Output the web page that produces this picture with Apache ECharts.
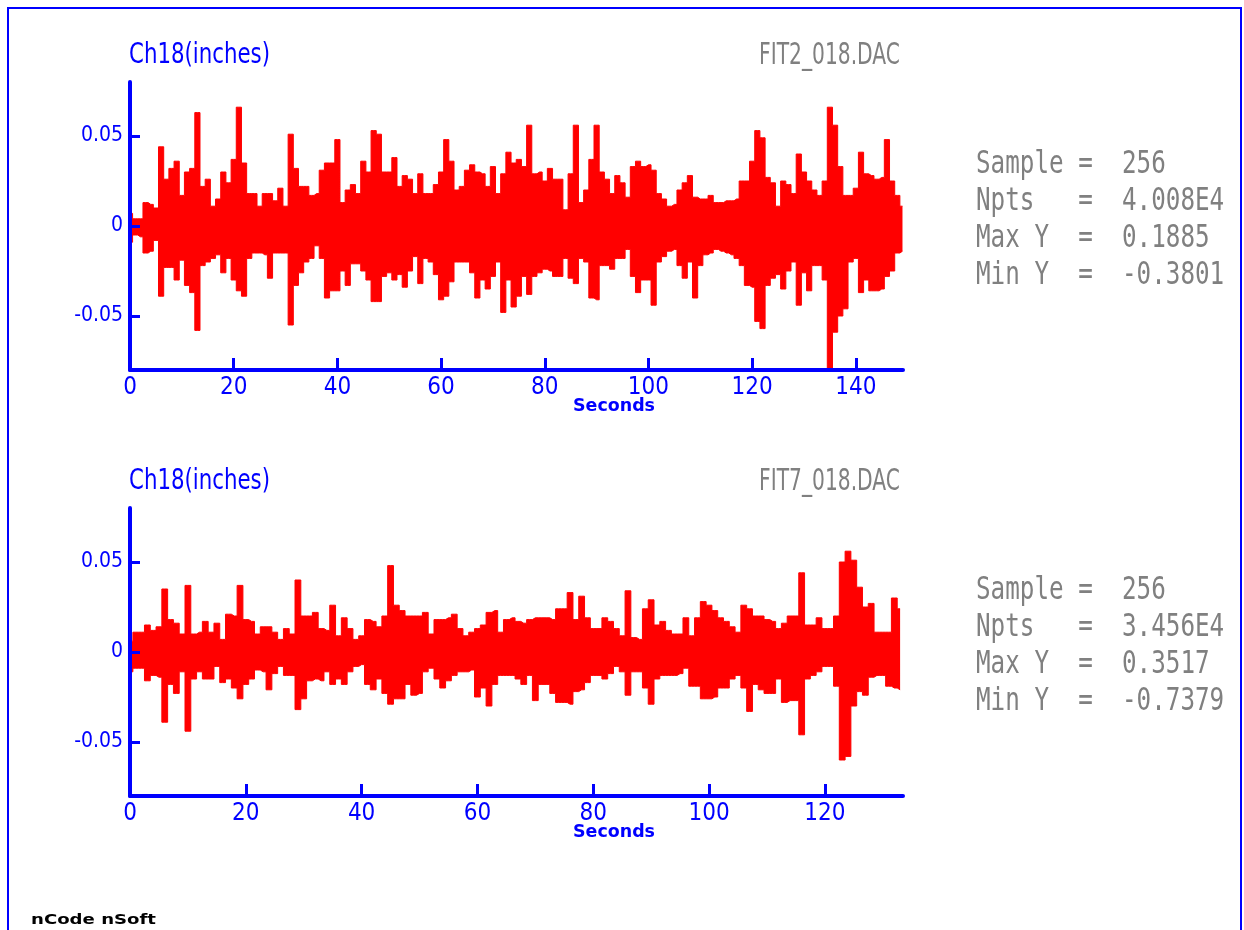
<!DOCTYPE html>
<html>
<head>
<meta charset="utf-8">
<script src="https://cdn.jsdelivr.net/npm/echarts@6/dist/echarts.min.js"></script>
<style>
  html, body { margin: 0; padding: 0; background: #ffffff; }
  #chart { width: 1244px; height: 930px; }
</style>
</head>
<body>
<div id="chart"></div>
<script>
// Ch18 displacement (inches), two road-load files.
// Each record is stored as its max / min envelope over 1-second windows.
const windowSeconds = 1;

const fit2Max = [
  0.007, 0.004, 0.004, 0.013, 0.012, 0.010, 0.044, 0.026, 0.032, 0.036,
  0.017, 0.030, 0.032, 0.063, 0.022, 0.026, 0.011, 0.015, 0.030, 0.024,
  0.037, 0.066, 0.035, 0.018, 0.018, 0.011, 0.018, 0.018, 0.014, 0.021,
  0.011, 0.051, 0.032, 0.022, 0.022, 0.017, 0.018, 0.031, 0.035, 0.035,
  0.048, 0.013, 0.020, 0.023, 0.018, 0.036, 0.030, 0.053, 0.051, 0.030,
  0.030, 0.038, 0.022, 0.028, 0.026, 0.018, 0.029, 0.018, 0.018, 0.023,
  0.030, 0.048, 0.036, 0.020, 0.022, 0.031, 0.034, 0.030, 0.029, 0.022,
  0.033, 0.018, 0.029, 0.041, 0.035, 0.037, 0.033, 0.056, 0.029, 0.030,
  0.025, 0.032, 0.026, 0.026, 0.009, 0.029, 0.056, 0.013, 0.020, 0.037,
  0.056, 0.030, 0.026, 0.018, 0.028, 0.024, 0.016, 0.033, 0.036, 0.033,
  0.034, 0.031, 0.018, 0.015, 0.011, 0.012, 0.020, 0.024, 0.028, 0.016,
  0.015, 0.015, 0.017, 0.013, 0.013, 0.014, 0.014, 0.015, 0.025, 0.025,
  0.036, 0.053, 0.049, 0.027, 0.024, 0.011, 0.025, 0.023, 0.018, 0.040,
  0.030, 0.025, 0.020, 0.017, 0.025, 0.066, 0.056, 0.033, 0.017, 0.017,
  0.021, 0.041, 0.029, 0.028, 0.026, 0.027, 0.048, 0.025, 0.017, 0.011
];
const fit2Min = [
  -0.009, -0.005, -0.006, -0.015, -0.014, -0.008, -0.039, -0.023, -0.023, -0.030,
  -0.019, -0.033, -0.037, -0.058, -0.022, -0.020, -0.018, -0.016, -0.026, -0.018,
  -0.030, -0.036, -0.039, -0.018, -0.015, -0.015, -0.016, -0.029, -0.015, -0.015,
  -0.015, -0.055, -0.033, -0.026, -0.020, -0.018, -0.011, -0.018, -0.040, -0.036,
  -0.036, -0.025, -0.033, -0.021, -0.021, -0.025, -0.030, -0.042, -0.042, -0.028,
  -0.026, -0.030, -0.027, -0.034, -0.025, -0.017, -0.032, -0.018, -0.020, -0.027,
  -0.041, -0.039, -0.031, -0.020, -0.020, -0.020, -0.026, -0.040, -0.030, -0.035,
  -0.028, -0.020, -0.048, -0.030, -0.045, -0.039, -0.028, -0.038, -0.028, -0.026,
  -0.024, -0.025, -0.028, -0.028, -0.018, -0.029, -0.032, -0.018, -0.020, -0.040,
  -0.041, -0.022, -0.022, -0.024, -0.018, -0.018, -0.013, -0.028, -0.037, -0.030,
  -0.030, -0.044, -0.020, -0.017, -0.014, -0.013, -0.022, -0.029, -0.020, -0.040,
  -0.022, -0.016, -0.015, -0.013, -0.014, -0.015, -0.016, -0.018, -0.022, -0.033,
  -0.034, -0.053, -0.057, -0.033, -0.029, -0.027, -0.035, -0.025, -0.020, -0.044,
  -0.026, -0.036, -0.022, -0.022, -0.030, -0.080, -0.059, -0.050, -0.046, -0.020,
  -0.018, -0.037, -0.030, -0.036, -0.036, -0.035, -0.028, -0.025, -0.015, -0.014
];

const fit7Max = [
  0.006, 0.011, 0.011, 0.015, 0.012, 0.014, 0.035, 0.018, 0.016, 0.010,
  0.037, 0.010, 0.011, 0.017, 0.011, 0.016, 0.007, 0.021, 0.020, 0.037,
  0.018, 0.017, 0.010, 0.014, 0.014, 0.011, 0.007, 0.013, 0.010, 0.040,
  0.020, 0.020, 0.022, 0.013, 0.012, 0.026, 0.009, 0.019, 0.013, 0.007,
  0.009, 0.018, 0.017, 0.014, 0.020, 0.048, 0.026, 0.023, 0.020, 0.020,
  0.020, 0.022, 0.010, 0.018, 0.018, 0.019, 0.021, 0.013, 0.009, 0.011,
  0.013, 0.015, 0.022, 0.023, 0.011, 0.018, 0.019, 0.017, 0.016, 0.018,
  0.019, 0.019, 0.019, 0.018, 0.024, 0.024, 0.033, 0.018, 0.031, 0.019,
  0.013, 0.013, 0.019, 0.017, 0.013, 0.009, 0.034, 0.008, 0.007, 0.024,
  0.029, 0.015, 0.017, 0.012, 0.010, 0.010, 0.019, 0.009, 0.019, 0.028,
  0.026, 0.023, 0.019, 0.017, 0.014, 0.011, 0.026, 0.024, 0.020, 0.020,
  0.018, 0.017, 0.013, 0.016, 0.020, 0.020, 0.044, 0.015, 0.015, 0.019,
  0.013, 0.013, 0.020, 0.050, 0.056, 0.051, 0.036, 0.025, 0.027, 0.011,
  0.011, 0.011, 0.030, 0.024
];
const fit7Min = [
  -0.011, -0.009, -0.009, -0.016, -0.013, -0.014, -0.039, -0.018, -0.023, -0.011,
  -0.044, -0.015, -0.011, -0.015, -0.015, -0.008, -0.017, -0.015, -0.020, -0.026,
  -0.018, -0.015, -0.010, -0.011, -0.021, -0.012, -0.008, -0.013, -0.013, -0.032,
  -0.026, -0.016, -0.015, -0.016, -0.011, -0.018, -0.015, -0.018, -0.011, -0.008,
  -0.007, -0.018, -0.021, -0.015, -0.023, -0.029, -0.026, -0.026, -0.018, -0.024,
  -0.023, -0.011, -0.009, -0.015, -0.020, -0.016, -0.013, -0.011, -0.011, -0.010,
  -0.025, -0.020, -0.030, -0.018, -0.013, -0.013, -0.013, -0.015, -0.018, -0.013,
  -0.027, -0.018, -0.018, -0.023, -0.028, -0.028, -0.029, -0.022, -0.021, -0.017,
  -0.013, -0.013, -0.015, -0.012, -0.008, -0.011, -0.024, -0.011, -0.011, -0.020,
  -0.029, -0.015, -0.013, -0.013, -0.013, -0.012, -0.009, -0.019, -0.019, -0.026,
  -0.026, -0.025, -0.020, -0.020, -0.015, -0.013, -0.020, -0.033, -0.018, -0.021,
  -0.023, -0.023, -0.015, -0.028, -0.027, -0.027, -0.046, -0.015, -0.013, -0.011,
  -0.008, -0.008, -0.019, -0.060, -0.058, -0.030, -0.022, -0.024, -0.014, -0.013,
  -0.013, -0.019, -0.020, -0.021
];

// axis ranges and tick labels
const secondsRange = [149.1, 133.5];
const fit2SecondTicks = [0, 20, 40, 60, 80, 100, 120, 140];
const fit7SecondTicks = [0, 20, 40, 60, 80, 100, 120];
const inchRange = [-0.08, 0.08];
const inchTicks = [-0.05, 0, 0.05];

// panel text
const channelName = 'Ch18(inches)';
const fileNames = ['FIT2_018.DAC', 'FIT7_018.DAC'];
const statSample = ['256', '256'];
const statNpts = ['4.008E4', '3.456E4'];
const statMaxY = ['0.1885', '0.3517'];
const statMinY = ['-0.3801', '-0.7379'];
const xAxisTitle = 'Seconds';
const footer = 'nCode nSoft';

// ---- styling / layout ----
const BLUE = '#0000ff';
const RED = '#ff0000';
const GRAY = '#808080';
const PANEL_SHIFT = 426;           // vertical distance between the two panels
const PLOT_LEFT = 130, PLOT_RIGHT = 903, PLOT_TOP = 82, PLOT_H = 288;

const measureCtx = document.createElement('canvas').getContext('2d');
function textWidth(text, font) {
  measureCtx.font = font;
  return measureCtx.measureText(text).width;
}

// one envelope edge, drawn as a stepped outline filled to zero
function envelopeSeries(values, panel) {
  return {
    type: 'line',
    xAxisIndex: panel,
    yAxisIndex: panel,
    data: values.map((v, i) => [i * windowSeconds, v]),
    step: 'middle',
    symbol: 'none',
    silent: true,
    animation: false,
    lineStyle: { color: RED, width: 1 },
    areaStyle: { color: RED, opacity: 1, origin: 'auto' },
    z: 1
  };
}

function xAxisFor(panel, ticks) {
  return {
    type: 'value',
    gridIndex: panel,
    min: 0,
    max: secondsRange[panel],
    axisLine: { show: true, onZero: false, lineStyle: { color: BLUE, width: 4 } },
    axisTick: { show: true, inside: true, length: 12, customValues: ticks,
                lineStyle: { color: BLUE, width: 3 } },
    axisLabel: { show: true, customValues: ticks, margin: 6, color: BLUE,
                 fontFamily: '"DejaVu Sans Condensed", "DejaVu Sans", sans-serif',
                 fontSize: 24 },
    splitLine: { show: false },
    z: 3
  };
}

function yAxisFor(panel) {
  return {
    type: 'value',
    gridIndex: panel,
    min: inchRange[0],
    max: inchRange[1],
    axisLine: { show: true, onZero: false, lineStyle: { color: BLUE, width: 4 } },
    axisTick: { show: true, inside: true, length: 10, customValues: inchTicks,
                lineStyle: { color: BLUE, width: 3 } },
    axisLabel: { show: true, customValues: inchTicks, margin: 7, color: BLUE,
                 fontFamily: '"DejaVu Sans Condensed", "DejaVu Sans", sans-serif',
                 fontSize: 21 },
    splitLine: { show: false },
    z: 3
  };
}

// scaled text element: font drawn, then squeezed/stretched to a target width
function fittedText(text, font, color, x, y, align, targetWidth) {
  const sx = targetWidth / textWidth(text, font);
  return {
    type: 'text', x: x, y: y, scaleX: sx, scaleY: 1, silent: true, z: 10,
    style: { text: text, font: font, fill: color,
             align: align, textAlign: align,
             verticalAlign: 'middle', textVerticalAlign: 'middle' }
  };
}

const graphics = [
  { type: 'rect', silent: true, z: 0,
    shape: { x: 8, y: 8, width: 1233, height: 1000 },
    style: { fill: null, stroke: BLUE, lineWidth: 2 } }
];

const monoFont = '32px "DejaVu Sans Mono", "Liberation Mono", monospace';
const monoScale = 14.6 / textWidth('0', monoFont);

[0, 1].forEach(p => {
  const dy = p * PANEL_SHIFT;
  graphics.push(fittedText(channelName, '29px "DejaVu Sans", sans-serif', BLUE,
                           129, 55.5 + dy, 'left', 141));
  graphics.push(fittedText(fileNames[p], '31px "DejaVu Sans", sans-serif', GRAY,
                           900, 55.5 + dy, 'right', 141));
  graphics.push(fittedText(xAxisTitle, 'bold 17.5px "DejaVu Sans", sans-serif', BLUE,
                           614, 406.7 + dy, 'center', 82));
  const lines = [
    'Sample =  ' + statSample[p],
    'Npts   =  ' + statNpts[p],
    'Max Y  =  ' + statMaxY[p],
    'Min Y  =  ' + statMinY[p]
  ];
  lines.forEach((s, i) => {
    graphics.push({
      type: 'text', x: 976, y: 165 + i * 37 + dy, scaleX: monoScale, scaleY: 1,
      silent: true, z: 10,
      style: { text: s, font: monoFont, fill: GRAY, align: 'left', textAlign: 'left',
               verticalAlign: 'middle', textVerticalAlign: 'middle' }
    });
  });
});
graphics.push(fittedText(footer, 'bold 14px "DejaVu Sans", sans-serif', '#000000',
                         31, 920, 'left', 125));

const chart = echarts.init(document.getElementById('chart'), null, { renderer: 'canvas' });
chart.setOption({
  animation: false,
  backgroundColor: '#ffffff',
  grid: [
    { left: PLOT_LEFT, width: PLOT_RIGHT - PLOT_LEFT, top: PLOT_TOP, height: PLOT_H },
    { left: PLOT_LEFT, width: PLOT_RIGHT - PLOT_LEFT, top: PLOT_TOP + PANEL_SHIFT, height: PLOT_H }
  ],
  xAxis: [xAxisFor(0, fit2SecondTicks), xAxisFor(1, fit7SecondTicks)],
  yAxis: [yAxisFor(0), yAxisFor(1)],
  series: [
    envelopeSeries(fit2Max, 0), envelopeSeries(fit2Min, 0),
    envelopeSeries(fit7Max, 1), envelopeSeries(fit7Min, 1)
  ],
  graphic: graphics
});
</script>
</body>
</html>
